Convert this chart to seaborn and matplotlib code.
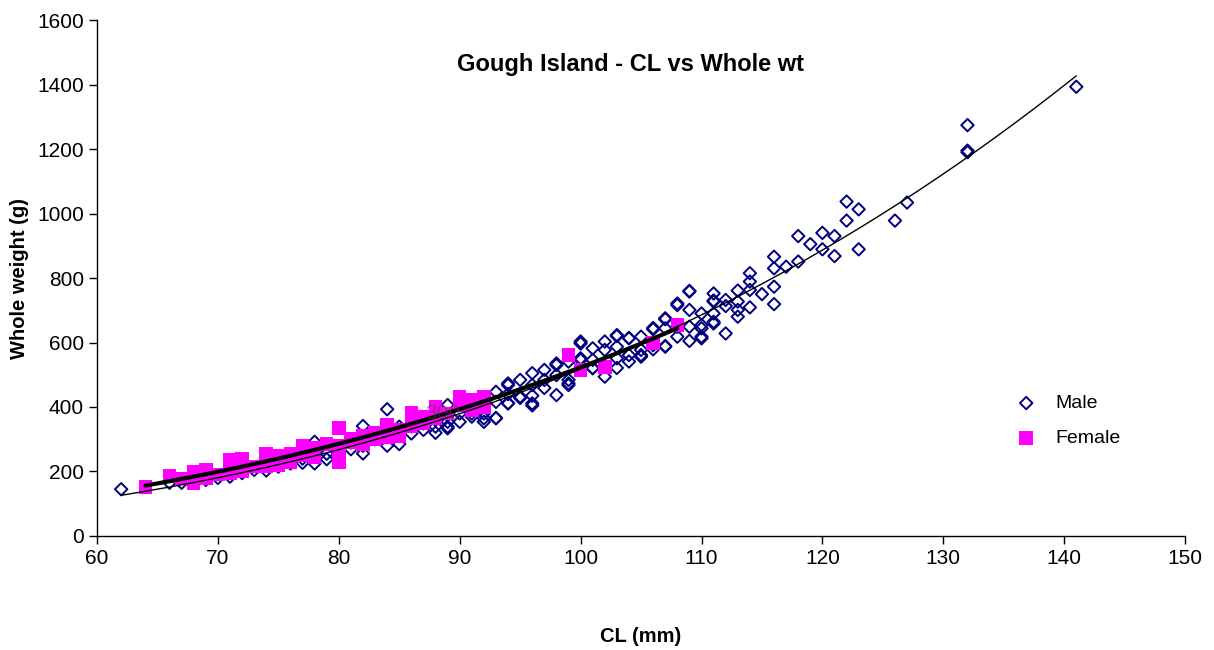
import numpy as np
import pandas as pd
import seaborn as sns
import matplotlib.pyplot as plt

# Carapace length (mm) vs whole weight (g)
male_cl = [62, 66, 67, 69, 70, 71, 72, 73, 74, 75, 75, 76, 77, 77,
           78, 78, 78, 79, 79, 80, 80, 80, 81, 81, 82, 82, 82, 82, 83, 83,
           84, 84, 84, 85, 85, 85, 86, 86, 87, 87, 88, 88, 88,
           89, 89, 89, 89, 89, 90, 90, 90, 91, 91, 91, 92, 92, 92, 92,
           93, 93, 93, 93, 94, 94, 94, 94, 94, 95, 95, 95,
           96, 96, 96, 96, 96, 97, 97, 97, 98, 98, 98, 98, 99, 99, 99, 99,
           100, 100, 100, 100, 100, 101, 101, 101, 101, 102, 102, 102,
           103, 103, 103, 103, 103, 104, 104, 104, 104, 105, 105, 105, 105,
           106, 106, 106, 106, 107, 107, 107, 107, 107, 108, 108, 108, 108,
           109, 109, 109, 109, 109, 110, 110, 110, 110, 110,
           111, 111, 111, 111, 111, 111, 112, 112, 112, 113, 113, 113, 113,
           114, 114, 114, 114, 115, 116, 116, 116, 116, 117, 118, 118, 119,
           120, 120, 121, 121, 122, 122, 123, 123, 126, 127, 132, 132, 132, 141]
male_wt = [145, 165, 165, 174, 180, 184, 195, 205, 203, 215, 225, 225, 227, 240,
           292, 225, 260, 238, 255, 261, 275, 250, 269, 290, 341, 256, 280, 300, 300, 310,
           393, 280, 330, 339, 285, 310, 318, 340, 349, 329, 360, 339, 320,
           406, 375, 354, 334, 339, 406, 354, 380, 396, 370, 380, 406, 380, 354, 365,
           366, 416, 447, 365, 468, 412, 473, 411, 440, 484, 428, 432,
           505, 468, 435, 405, 411, 515, 459, 484, 535, 499, 437, 530, 484, 468, 473, 541,
           597, 546, 515, 603, 551, 582, 521, 546, 520, 603, 577, 494,
           620, 587, 551, 521, 623, 614, 561, 541, 613, 618, 577, 561, 556,
           645, 592, 641, 579, 675, 644, 589, 672, 587, 721, 649, 618, 716,
           760, 701, 649, 605, 758, 690, 644, 613, 654, 618,
           752, 730, 690, 659, 727, 664, 732, 713, 628, 761, 727, 701, 680,
           815, 789, 763, 709, 750, 866, 830, 773, 719, 835, 930, 851, 905,
           940, 889, 930, 868, 1037, 978, 1013, 889, 978, 1034, 1274, 1195, 1190, 1393]

female_cl = [64, 66, 67, 68, 68, 69, 69, 70, 71, 71, 71, 72, 72, 73, 74, 74,
             75, 75, 76, 76, 77, 77, 78, 78, 79, 80, 80, 80, 80, 81, 81,
             82, 82, 83, 83, 84, 84, 84, 85, 85, 86, 86, 87, 87, 88, 88,
             89, 90, 90, 91, 91, 92, 92, 99, 100, 102, 106, 108]
female_wt = [152, 186, 178, 200, 165, 205, 180, 190, 235, 195, 225, 240, 200, 215, 255, 215,
             250, 220, 255, 230, 280, 250, 275, 245, 285, 335, 280, 230, 265, 300, 290,
             310, 285, 320, 300, 345, 330, 305, 330, 310, 381, 341, 369, 350, 400, 365,
             380, 431, 405, 422, 390, 431, 400, 561, 515, 524, 598, 654]

male = pd.DataFrame({"CL": male_cl, "wt": male_wt})
female = pd.DataFrame({"CL": female_cl, "wt": female_wt})


def power_fit(df):
    # Excel-style power trendline y = a * x^b
    b, ln_a = np.polyfit(np.log(df["CL"]), np.log(df["wt"]), 1)
    xs = np.linspace(df["CL"].min(), df["CL"].max(), 200)
    return pd.DataFrame({"CL": xs, "wt": np.exp(ln_a) * xs ** b})


sns.set_style("white")
plt.rcParams["font.family"] = ["Liberation Sans", "DejaVu Sans"]
plt.rcParams["text.color"] = "black"
plt.rcParams["axes.labelcolor"] = "black"
plt.rcParams["xtick.color"] = "black"
plt.rcParams["ytick.color"] = "black"

fig = plt.figure(figsize=(12.14, 6.5), dpi=100)
ax = fig.add_axes([0.0799, 0.1754, 0.8963, 0.7938])

sns.scatterplot(data=male, x="CL", y="wt", marker="D", s=40, facecolor="none",
                edgecolor="#000080", linewidth=1.4, label="Male", ax=ax, zorder=3)
sns.scatterplot(data=female, x="CL", y="wt", marker="s", s=95, color="#FF00FF",
                edgecolor="none", label="Female", ax=ax, zorder=4)
sns.lineplot(data=power_fit(male), x="CL", y="wt", color="black", linewidth=1.0,
             ax=ax, zorder=5, legend=False)
sns.lineplot(data=power_fit(female), x="CL", y="wt", color="black", linewidth=3.0,
             ax=ax, zorder=5, legend=False)

ax.text(88.6, 381, "300", color="#444444", alpha=0.55, fontsize=15,
        ha="center", va="center", zorder=6)

ax.set_xlim(60, 150)
ax.set_ylim(0, 1600)
ax.set_xticks(range(60, 151, 10))
ax.set_yticks(range(0, 1601, 200))
ax.tick_params(axis="both", labelsize=15, direction="out", length=6, width=1,
               bottom=True, left=True, colors="black")
for side in ["top", "right"]:
    ax.spines[side].set_visible(False)
for side in ["left", "bottom"]:
    ax.spines[side].set_color("black")
    ax.spines[side].set_linewidth(1)

ax.set_xlabel("CL (mm)", fontsize=14.5, fontweight="bold", labelpad=42)
ax.set_ylabel("Whole weight (g)", fontsize=14.5, fontweight="bold", labelpad=6)
ax.text(0.49, 0.913, "Gough Island - CL vs Whole wt", transform=ax.transAxes,
        ha="center", va="center", fontsize=17, fontweight="bold")

ax.legend(loc="center left", bbox_to_anchor=(0.82, 0.223), frameon=False,
          fontsize=14, handletextpad=0.5, labelspacing=0.9)

plt.savefig("out.png", dpi=100)
